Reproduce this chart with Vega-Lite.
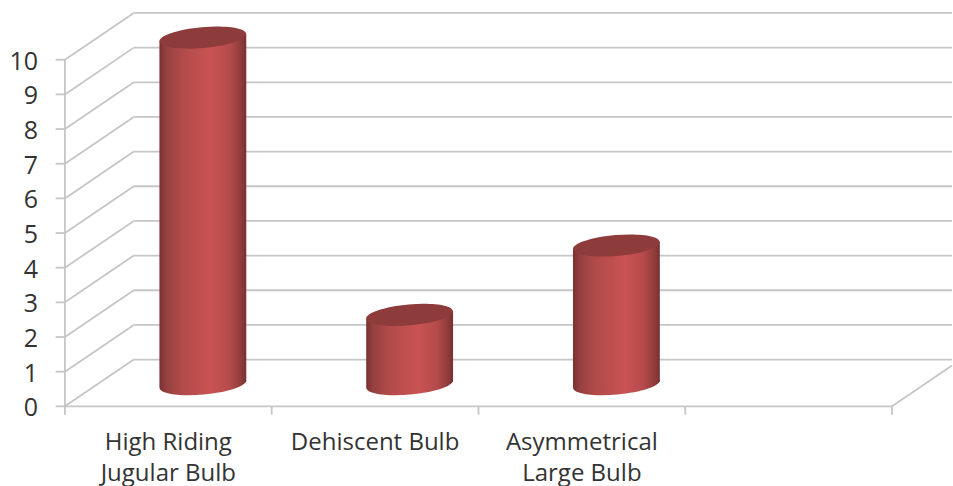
{
  "$schema": "https://vega.github.io/schema/vega-lite/v6.json",
  "width": 953,
  "height": 486,
  "autosize": {"type": "fit", "contains": "padding"},
  "padding": 0,
  "background": "white",
  "config": {"view": {"stroke": null}, "axis": {"disable": true}},
  "datasets": {
    "levels": [{"level":0},{"level":1},{"level":2},{"level":3},{"level":4},{"level":5},{"level":6},{"level":7},{"level":8},{"level":9},{"level":10}],
    "boundaries": [{"tick":0},{"tick":1},{"tick":2},{"tick":3},{"tick":4}],
    "bars": [
      {"label":"High Riding\nJugular Bulb","slot":0,"value":10},
      {"label":"Dehiscent Bulb","slot":1,"value":2},
      {"label":"Asymmetrical\nLarge Bulb","slot":2,"value":4}
    ]
  },
  "layer": [
    {
      "data": {"name": "levels"},
      "transform": [{"calculate": "datum.level + 1.35", "as": "back"}],
      "mark": {"type": "rule", "color": "#c6c6c6", "strokeWidth": 1.8},
      "encoding": {
        "x": {"datum": 0, "type": "quantitative", "scale": {"domain": [-0.314, 4.29], "nice": false, "zero": false}},
        "x2": {"datum": 0.333},
        "y": {"field": "level", "type": "quantitative", "scale": {"domain": [-2.241, 11.724], "nice": false, "zero": false}},
        "y2": {"field": "back"}
      }
    },
    {
      "data": {"name": "levels"},
      "transform": [{"calculate": "datum.level + 1.35", "as": "back"}],
      "mark": {"type": "rule", "color": "#c6c6c6", "strokeWidth": 1.8},
      "encoding": {
        "x": {"datum": 0.333, "type": "quantitative", "scale": {"domain": [-0.314, 4.29], "nice": false, "zero": false}},
        "x2": {"datum": 4.29},
        "y": {"field": "back", "type": "quantitative", "scale": {"domain": [-2.241, 11.724], "nice": false, "zero": false}}
      }
    },
    {
      "data": {"name": "levels"},
      "mark": {"type": "rule", "color": "#c6c6c6", "strokeWidth": 1.8},
      "encoding": {
        "x": {"datum": -0.045, "type": "quantitative", "scale": {"domain": [-0.314, 4.29], "nice": false, "zero": false}},
        "x2": {"datum": 0},
        "y": {"field": "level", "type": "quantitative", "scale": {"domain": [-2.241, 11.724], "nice": false, "zero": false}}
      }
    },
    {
      "data": {"values": [{"from": 0, "to": 10}]},
      "mark": {"type": "rule", "color": "#c6c6c6", "strokeWidth": 1.8},
      "encoding": {
        "x": {"datum": 0, "type": "quantitative", "scale": {"domain": [-0.314, 4.29], "nice": false, "zero": false}},
        "y": {"field": "from", "type": "quantitative", "scale": {"domain": [-2.241, 11.724], "nice": false, "zero": false}},
        "y2": {"field": "to"}
      }
    },
    {
      "data": {"values": [{"from": 0, "to": 4}]},
      "mark": {"type": "rule", "color": "#c6c6c6", "strokeWidth": 1.8},
      "encoding": {
        "x": {"field": "from", "type": "quantitative", "scale": {"domain": [-0.314, 4.29], "nice": false, "zero": false}},
        "x2": {"field": "to"},
        "y": {"datum": 0, "type": "quantitative", "scale": {"domain": [-2.241, 11.724], "nice": false, "zero": false}}
      }
    },
    {
      "data": {"name": "boundaries"},
      "mark": {"type": "rule", "color": "#c6c6c6", "strokeWidth": 1.8},
      "encoding": {
        "x": {"field": "tick", "type": "quantitative", "scale": {"domain": [-0.314, 4.29], "nice": false, "zero": false}},
        "y": {"datum": 0, "type": "quantitative", "scale": {"domain": [-2.241, 11.724], "nice": false, "zero": false}},
        "y2": {"datum": -0.24}
      }
    },
    {
      "data": {"values": [{"from": 4}]},
      "mark": {"type": "rule", "color": "#c6c6c6", "strokeWidth": 1.8},
      "encoding": {
        "x": {"field": "from", "type": "quantitative", "scale": {"domain": [-0.314, 4.29], "nice": false, "zero": false}},
        "x2": {"datum": 4.29},
        "y": {"datum": 0, "type": "quantitative", "scale": {"domain": [-2.241, 11.724], "nice": false, "zero": false}},
        "y2": {"datum": 1.178}
      }
    },
    {
      "data": {"name": "bars"},
      "transform": [{"calculate": "datum.slot + 0.667", "as": "centre"}],
      "mark": {
        "type": "point", "filled": true, "opacity": 1, "size": 7569,
        "shape": "M-0.9962,0.0872A1,0.24,-5,1,1,0.9962,-0.0872A1,0.24,-5,1,1,-0.9962,0.0872Z",
        "fill": {"gradient": "linear", "x1": 0, "x2": 1, "y1": 0, "y2": 0, "stops": [
          {"offset": 0, "color": "#7a3131"}, {"offset": 0.08, "color": "#964040"}, {"offset": 0.25, "color": "#b04a4a"},
          {"offset": 0.6, "color": "#ca5353"}, {"offset": 0.82, "color": "#b34a4a"}, {"offset": 0.95, "color": "#8c3a3a"},
          {"offset": 1, "color": "#763030"}
        ]}
      },
      "encoding": {
        "x": {"field": "centre", "type": "quantitative", "scale": {"domain": [-0.314, 4.29], "nice": false, "zero": false}},
        "y": {"datum": 0.64, "type": "quantitative", "scale": {"domain": [-2.241, 11.724], "nice": false, "zero": false}}
      }
    },
    {
      "data": {"name": "bars"},
      "transform": [
        {"calculate": "[-0.21, 0.21]", "as": "edge"},
        {"flatten": ["edge"]},
        {"calculate": "datum.slot + 0.667 + datum.edge", "as": "side"},
        {"calculate": "datum.value + 0.64 + datum.edge * 0.48", "as": "top"},
        {"calculate": "0.64 + datum.edge * 0.34", "as": "base"}
      ],
      "mark": {
        "type": "area", "interpolate": "linear", "opacity": 1,
        "fill": {"gradient": "linear", "x1": 0, "x2": 1, "y1": 0, "y2": 0, "stops": [
          {"offset": 0, "color": "#7a3131"}, {"offset": 0.08, "color": "#964040"}, {"offset": 0.25, "color": "#b04a4a"},
          {"offset": 0.6, "color": "#ca5353"}, {"offset": 0.82, "color": "#b34a4a"}, {"offset": 0.95, "color": "#8c3a3a"},
          {"offset": 1, "color": "#763030"}
        ]}
      },
      "encoding": {
        "detail": {"field": "slot"},
        "x": {"field": "side", "type": "quantitative", "scale": {"domain": [-0.314, 4.29], "nice": false, "zero": false}},
        "y": {"field": "top", "type": "quantitative", "scale": {"domain": [-2.241, 11.724], "nice": false, "zero": false}},
        "y2": {"field": "base"}
      }
    },
    {
      "data": {"name": "bars"},
      "transform": [
        {"calculate": "datum.slot + 0.667", "as": "centre"},
        {"calculate": "datum.value + 0.64", "as": "top"}
      ],
      "mark": {
        "type": "point", "filled": true, "opacity": 1, "size": 7569, "color": "#8e3b3b",
        "shape": "M-0.9962,0.0872A1,0.24,-5,1,1,0.9962,-0.0872A1,0.24,-5,1,1,-0.9962,0.0872Z"
      },
      "encoding": {
        "x": {"field": "centre", "type": "quantitative", "scale": {"domain": [-0.314, 4.29], "nice": false, "zero": false}},
        "y": {"field": "top", "type": "quantitative", "scale": {"domain": [-2.241, 11.724], "nice": false, "zero": false}}
      }
    },
    {
      "data": {"name": "levels"},
      "mark": {"type": "text", "align": "right", "baseline": "middle", "dy": 2, "font": "Open Sans", "fontSize": 25, "color": "#333333"},
      "encoding": {
        "x": {"datum": -0.13, "type": "quantitative", "scale": {"domain": [-0.314, 4.29], "nice": false, "zero": false}},
        "y": {"field": "level", "type": "quantitative", "scale": {"domain": [-2.241, 11.724], "nice": false, "zero": false}},
        "text": {"field": "level", "type": "nominal"}
      }
    },
    {
      "data": {"name": "bars"},
      "transform": [{"calculate": "datum.slot + 0.5", "as": "centre"}],
      "mark": {"type": "text", "align": "center", "baseline": "top", "font": "Open Sans", "fontSize": 24, "lineBreak": "\n", "lineHeight": 31, "color": "#333333"},
      "encoding": {
        "x": {"field": "centre", "type": "quantitative", "scale": {"domain": [-0.314, 4.29], "nice": false, "zero": false}},
        "y": {"datum": -0.7, "type": "quantitative", "scale": {"domain": [-2.241, 11.724], "nice": false, "zero": false}},
        "text": {"field": "label", "type": "nominal"}
      }
    }
  ]
}
